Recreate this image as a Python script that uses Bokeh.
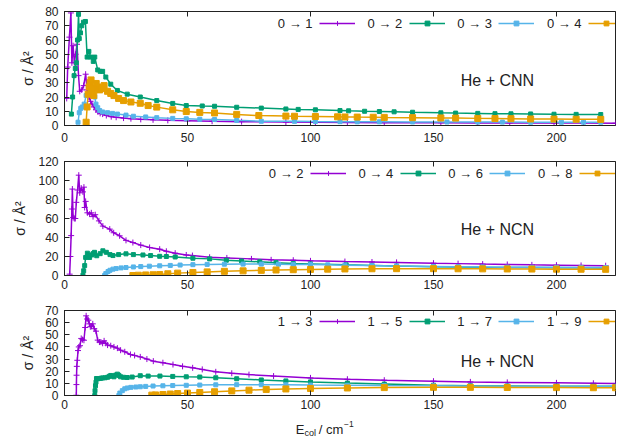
from bokeh.plotting import figure
from bokeh.models import Range1d, FixedTicker, LinearAxis, Legend, LegendItem, Label
from bokeh.core.properties import value
from bokeh.layouts import column
from bokeh.embed import file_html
from bokeh.resources import INLINE

# ---------------- data ----------------
# Panel 1: He + CNN
cnn_01_E = [0.9, 1.3, 2.0, 2.6, 3.0, 3.5, 4.0, 4.5, 5.1, 5.7, 6.2, 7.0, 7.8, 8.6, 9.2, 9.9, 10.6, 11.2, 12.0, 12.8, 13.6, 14.5, 15.5, 17, 19, 21, 24, 27, 31, 36, 42, 50, 60, 72, 90, 102, 115, 130, 153, 168, 181, 199, 211, 224]
cnn_01_S = [19, 41, 62, 79, 44, 56, 44, 50, 57, 35, 24, 25, 28, 36, 25, 20, 17, 15, 13, 11, 9.5, 8.5, 8, 7, 6.2, 5.8, 5.2, 4.8, 4.3, 4.0, 3.6, 3.3, 3.0, 2.7, 2.4, 2.3, 2.1, 2.0, 1.9, 1.8, 1.8, 1.7, 1.7, 1.6]
cnn_02_E = [2.8, 3.3, 3.9, 4.4, 4.8, 5.3, 5.7, 6.0, 6.5, 7.0, 7.7, 8.5, 9.2, 9.9, 10.7, 11.7, 12.3, 13.5, 14.5, 15.5, 16.8, 18.8, 21.5, 25.5, 30.8, 37.5, 44, 49.5, 56, 61, 70, 80, 90, 95, 102, 112, 115.5, 122, 128, 134, 141.5, 153, 159, 168, 175, 181.5, 189.5, 199, 208, 218]
cnn_02_S = [8, 20, 35, 40, 44, 60, 78, 61, 65, 70, 72.5, 73, 48, 52, 48, 45, 48, 39, 38, 38, 34, 29, 24.6, 22, 20, 17.5, 15.5, 14, 13.7, 13.5, 12.8, 12.2, 11.6, 11.3, 11, 10.5, 10.3, 10, 9.8, 9.6, 9.3, 8.9, 8.7, 8.5, 8.3, 8.2, 8.1, 7.9, 7.8, 7.7]
cnn_03_E = [5.5, 6.0, 6.6, 7.2, 8.0, 8.8, 10.0, 11.0, 11.7, 12.3, 12.8, 13.5, 14.3, 15.5, 17.5, 19.5, 21.5, 25, 28, 33, 37.5, 44, 49.5, 55, 61, 70, 80, 93.5, 102, 112, 119, 128, 141.5, 155.5, 168, 178, 189.5, 202, 211, 218]
cnn_03_S = [2.3, 9, 12, 13, 15, 21, 22, 23, 22, 20, 15, 12.5, 10.5, 9.5, 9, 8.5, 8, 7.3, 6.5, 6, 5.5, 5, 4.7, 4.4, 4.2, 3.6, 3.0, 2.9, 2.8, 2.7, 2.6, 2.6, 2.5, 2.5, 2.4, 2.4, 2.3, 2.3, 2.3, 2.3]
cnn_04_E = [8.8, 9.2, 9.6, 10.0, 10.4, 10.8, 11.3, 11.9, 12.4, 12.9, 13.6, 14.3, 15.2, 16.1, 17.5, 18.8, 20.1, 22, 24, 27, 30.8, 34, 37.5, 44, 49.5, 55, 61, 70, 79, 90, 93.5, 102, 111, 114, 119, 125.5, 130, 141.5, 153, 159, 168, 175, 181.5, 189.5, 199, 208, 218]
cnn_04_S = [2.3, 13, 22, 27, 30, 32, 26, 21, 26, 29.5, 27, 25, 26, 28, 24, 22.5, 21, 19, 17.5, 16.5, 15.6, 14, 12.9, 11, 9.8, 9.2, 8.8, 7.8, 7, 6.6, 6.5, 6.3, 6.1, 6, 5.9, 5.8, 5.7, 5.5, 5.3, 5.2, 5.0, 4.9, 4.8, 4.6, 4.5, 4.4, 4.3]

# Panel 2: He + NCN (even j)
ncn_02_E = [2.1, 2.4, 2.7, 3.0, 3.2, 3.5, 4.0, 4.4, 4.8, 5.3, 5.8, 6.2, 6.8, 7.5, 7.9, 8.2, 8.6, 9.3, 10.2, 10.9, 11.6, 12.5, 14, 15.6, 18.4, 20, 22.4, 25, 27.8, 31, 34.6, 38.7, 41.4, 45, 49.5, 52, 59, 66, 76, 84, 93, 100, 114, 125, 135, 150, 160, 170, 180, 190, 200, 210, 220]
ncn_02_S = [1.4, 20, 42, 70, 91, 61, 60, 60, 77, 90, 105.6, 87, 92, 88, 93, 71.6, 78, 66, 64.6, 66, 62, 64, 57.5, 52, 48.8, 45, 41.8, 37, 34.7, 32, 29.5, 27.7, 25.5, 23.5, 21.6, 21, 19.2, 18.5, 17.5, 16.5, 16.1, 15.4, 14.7, 14.2, 13.8, 13.0, 12.5, 12.0, 11.6, 11.2, 10.9, 10.6, 10.3]
ncn_04_E = [7.5, 7.8, 8.2, 8.6, 9.3, 9.8, 10.2, 11.1, 11.6, 12.2, 13.1, 14.5, 15.6, 17, 18.5, 19.7, 22, 25, 28, 31.9, 35, 38.7, 41.4, 45, 52.2, 59, 65.8, 72, 79.4, 86, 93, 100, 114.5, 125, 135, 150, 160, 170, 180, 190, 200, 210, 220]
ncn_04_S = [0.3, 5, 10.4, 19, 23.5, 21, 19, 21.6, 23, 24.4, 20.8, 23, 26, 24.4, 22, 21, 22, 22.8, 22, 21.6, 21, 20.2, 20, 19.5, 18.2, 17.5, 16.1, 15.2, 14.4, 13.5, 12.6, 12.2, 11.2, 10.6, 10.0, 9.3, 8.9, 8.6, 8.4, 8.3, 8.2, 8.1, 8.0]
ncn_06_E = [16.3, 16.8, 17.7, 18.5, 19.7, 21, 23, 25, 28, 31, 34.5, 38.7, 43, 47, 52.2, 58, 65, 72.6, 80, 87, 93, 100, 107, 114, 125, 135, 150, 160, 170, 180, 190, 200, 210, 220]
ncn_06_S = [0, 2.0, 4.2, 5.5, 6.7, 7.3, 8.0, 8.4, 9.0, 9.4, 9.8, 10.2, 10.6, 11.0, 11.4, 11.7, 11.9, 12.0, 12.0, 11.9, 11.7, 11.5, 11.2, 10.9, 10.4, 10.0, 9.5, 9.2, 9.0, 8.8, 8.7, 8.6, 8.5, 8.4]
ncn_08_E = [27.8, 30, 33, 36, 38.7, 42, 46, 52.2, 58, 65, 72.6, 80, 86, 93, 100, 107, 114, 125, 135, 150, 160, 170, 180, 190, 200, 210, 220]
ncn_08_S = [0, 0.3, 0.6, 0.8, 1.0, 1.8, 2.5, 3.2, 3.8, 4.4, 4.9, 5.4, 5.8, 6.1, 6.4, 6.7, 6.9, 7.1, 7.2, 7.2, 7.1, 7.0, 6.9, 6.8, 6.7, 6.6, 6.5]

# Panel 3: He + NCN (odd j)
ncn_13_E = [4.8, 4.85, 4.9, 5.0, 5.2, 5.5, 5.8, 6.3, 6.8, 7.3, 7.9, 8.4, 8.8, 9.2, 9.7, 10.1, 10.5, 11.0, 11.5, 12.1, 12.8, 13.5, 14.2, 14.8, 15.5, 16.1, 16.8, 17.5, 18.8, 20.1, 21.5, 22.8, 24.5, 26.8, 28.5, 30.8, 33.5, 36.1, 40, 44.1, 48, 52.1, 56, 61.5, 68, 75, 85, 100, 115, 130, 150, 165, 180, 200, 215, 224]
ncn_13_S = [0.2, 9, 16.7, 24, 29, 37, 40, 41, 47, 46, 45.5, 56, 65.6, 63, 62, 59, 56.6, 57, 59, 55, 53, 45.6, 44, 44, 43, 45, 43, 41.5, 41, 40, 39, 37.3, 36, 33.8, 33, 31.8, 30, 28.3, 27, 25.5, 24, 22.8, 21.5, 19.5, 18.3, 17.2, 16, 14.5, 13.4, 12.6, 11.8, 11.2, 10.8, 10.4, 10.1, 9.9]
ncn_15_E = [12.3, 12.4, 12.6, 12.8, 13.0, 13.5, 14.2, 14.8, 15.5, 16.5, 17.5, 18.2, 18.8, 19.5, 20.1, 20.8, 21.5, 22.1, 22.8, 24, 25.5, 27.5, 30.8, 34, 38.8, 44, 49.5, 55, 61.5, 70, 80, 90, 100, 115, 130, 150, 165, 180, 200, 215, 224]
ncn_15_S = [0, 4, 8, 11, 14, 13.8, 14, 14.2, 14.5, 14.6, 15, 15.8, 16.5, 16, 15.4, 16.8, 17.6, 16.6, 15.4, 15, 14.8, 15.2, 16.3, 16, 16, 15.7, 15.4, 15.2, 14.6, 13.8, 12.8, 12, 11.2, 10.2, 9.4, 8.5, 8.1, 7.9, 7.7, 7.6, 7.6]
ncn_17_E = [22.1, 22.5, 23.5, 24.5, 25.5, 27, 29, 30.8, 33, 36, 40, 44, 49.5, 55, 61.5, 70, 80, 90, 100, 115, 130, 150, 165, 180, 200, 215, 224]
ncn_17_S = [0, 2, 4, 5.5, 6.2, 6.7, 7.0, 7.2, 7.5, 7.8, 8.0, 8.2, 8.4, 8.6, 8.8, 8.9, 8.9, 8.8, 8.6, 8.4, 8.2, 8.0, 7.8, 7.7, 7.5, 7.4, 7.4]
ncn_19_E = [35.5, 37, 40, 43, 46, 50, 55, 61, 68, 75, 82, 90, 100, 115, 130, 150, 165, 180, 200, 215, 224]
ncn_19_S = [0.3, 0.5, 0.8, 1.2, 1.6, 2.0, 2.5, 3.1, 3.8, 4.4, 5.0, 5.4, 5.8, 6.2, 6.5, 6.7, 6.7, 6.6, 6.5, 6.4, 6.4]

cnn_labels = ["0 → 1", "0 → 2", "0 → 3", "0 → 4"]
ncn_even_labels = ["0 → 2", "0 → 4", "0 → 6", "0 → 8"]
ncn_odd_labels = ["1 → 3", "1 → 5", "1 → 7", "1 → 9"]

x_ticks = [0, 50, 100, 150, 200]
cnn_y_ticks = [0, 10, 20, 30, 40, 50, 60, 70, 80]
ncn_even_y_ticks = [0, 20, 40, 60, 80, 100, 120]
ncn_odd_y_ticks = [0, 10, 20, 30, 40, 50, 60, 70]

# ---------------- styling ----------------
FONT = "Liberation Sans"
INK = "#222222"
COLORS = ["#9400D3", "#009E73", "#56B4E9", "#E69F00"]
MARKERS = [("cross", 6), ("square", 4), ("square", 4), ("square", 6)]
X_END = 224
LEGEND_STEP = 89.7      # px between legend samples
W = 616


def style_axis(ax, ticks, label_size="12px", standoff=6):
    ax.ticker = FixedTicker(ticks=ticks)
    ax.major_tick_in = 5
    ax.major_tick_out = 0
    ax.minor_tick_in = 0
    ax.minor_tick_out = 0
    ax.axis_line_color = INK
    ax.major_tick_line_color = INK
    ax.major_label_text_font = FONT
    ax.major_label_text_font_size = label_size
    ax.major_label_text_color = INK
    ax.major_label_standoff = standoff


def make_panel(series, labels, y_end, y_ticks, name, name_xy, height, top, bottom, left,
               legend_x, legend_mid, xlab_standoff, ylab_standoff):
    p = figure(width=W, height=height, x_range=Range1d(0, X_END), y_range=Range1d(0, y_end),
               output_backend="svg", toolbar_location=None,
               min_border_top=top, min_border_bottom=bottom, min_border_left=left,
               min_border_right=1)
    p.xgrid.visible = False
    p.ygrid.visible = False
    p.outline_line_color = INK
    p.outline_line_width = 1
    p.background_fill_color = "white"
    p.border_fill_color = "white"

    style_axis(p.xaxis[0], x_ticks, standoff=xlab_standoff)
    style_axis(p.yaxis[0], y_ticks, standoff=6)
    p.yaxis[0].axis_label = "σ / Å²"
    p.yaxis[0].axis_label_text_font = FONT
    p.yaxis[0].axis_label_text_font_size = "14px"
    p.yaxis[0].axis_label_text_font_style = "normal"
    p.yaxis[0].axis_label_text_color = INK
    p.yaxis[0].axis_label_standoff = ylab_standoff

    top_ax = LinearAxis()
    style_axis(top_ax, x_ticks, label_size="1px", standoff=0)
    top_ax.major_label_text_color = None
    p.add_layout(top_ax, "above")

    for i, ((E, S), lab, col, (mk, sz)) in enumerate(zip(series, labels, COLORS, MARKERS)):
        lr = p.line(E, S, line_color=col, line_width=1.5)
        sr = p.scatter(E, S, marker=mk, size=sz, fill_color=col, line_color=col, line_width=1)
        gx = legend_x + i * LEGEND_STEP
        leg = Legend(items=[LegendItem(label=value(""), renderers=[lr, sr])],
                     location=(gx, legend_mid - 6), orientation="horizontal",
                     glyph_width=36, glyph_height=12, label_standoff=0, label_width=0,
                     label_height=12, spacing=0, padding=0, margin=0,
                     border_line_color=None, background_fill_alpha=0,
                     label_text_font_size="12px")
        p.add_layout(leg)
        p.add_layout(Label(x=gx - 7, y=legend_mid, x_units="screen", y_units="screen",
                           text=lab, text_align="right", text_baseline="middle",
                           text_font=FONT, text_font_size="13px", text_color=INK))

    p.add_layout(Label(x=name_xy[0], y=name_xy[1], text=name, text_align="center",
                       text_baseline="middle", text_font=FONT, text_font_size="16px",
                       text_color=INK))
    return p


p1 = make_panel([(cnn_01_E, cnn_01_S), (cnn_02_E, cnn_02_S), (cnn_03_E, cnn_03_S), (cnn_04_E, cnn_04_S)],
                cnn_labels, 80, cnn_y_ticks, "He + CNN", (176, 31.6),
                height=146, top=11, bottom=21, left=55, legend_x=255, legend_mid=102,
                xlab_standoff=7, ylab_standoff=6)
p2 = make_panel([(ncn_02_E, ncn_02_S), (ncn_04_E, ncn_04_S), (ncn_06_E, ncn_06_S), (ncn_08_E, ncn_08_S)],
                ncn_even_labels, 120, ncn_even_y_ticks, "He + NCN", (176, 48.4),
                height=147, top=15, bottom=18, left=64, legend_x=246, legend_mid=102,
                xlab_standoff=4, ylab_standoff=7)
p3 = make_panel([(ncn_13_E, ncn_13_S), (ncn_15_E, ncn_15_S), (ncn_17_E, ncn_17_S), (ncn_19_E, ncn_19_S)],
                ncn_odd_labels, 70, ncn_odd_y_ticks, "He + NCN", (176, 28.2),
                height=120, top=17, bottom=18, left=55, legend_x=255, legend_mid=74,
                xlab_standoff=4, ylab_standoff=6)

# x-axis title strip: E_col / cm^-1 (sub/superscripts as separate text pieces),
# laid out on the same E scale as the panels above
px = figure(width=W, height=23, x_range=Range1d(0, X_END), y_range=Range1d(0, 1),
            title=None, output_backend="svg", toolbar_location=None,
            x_axis_type=None, y_axis_type=None,
            min_border_left=55, min_border_right=1, min_border_top=0, min_border_bottom=0)
px.outline_line_color = None
px.xgrid.visible = False
px.ygrid.visible = False
for txt, x, y, fs in [("E", 94.0, 7, "13px"), ("col", 97.6, 4, "9px"),
                      ("/ cm", 103.4, 7, "13px"), ("−1", 113.6, 13, "8.5px")]:
    px.add_layout(Label(x=x, y=y, x_units="data", y_units="screen", text=txt,
                        text_align="left", text_baseline="alphabetic", text_font=FONT,
                        text_font_size=fs, text_color=INK))

layout = column(p1, p2, p3, px, spacing=0)
open("out.html", "w").write(file_html(layout, INLINE))
